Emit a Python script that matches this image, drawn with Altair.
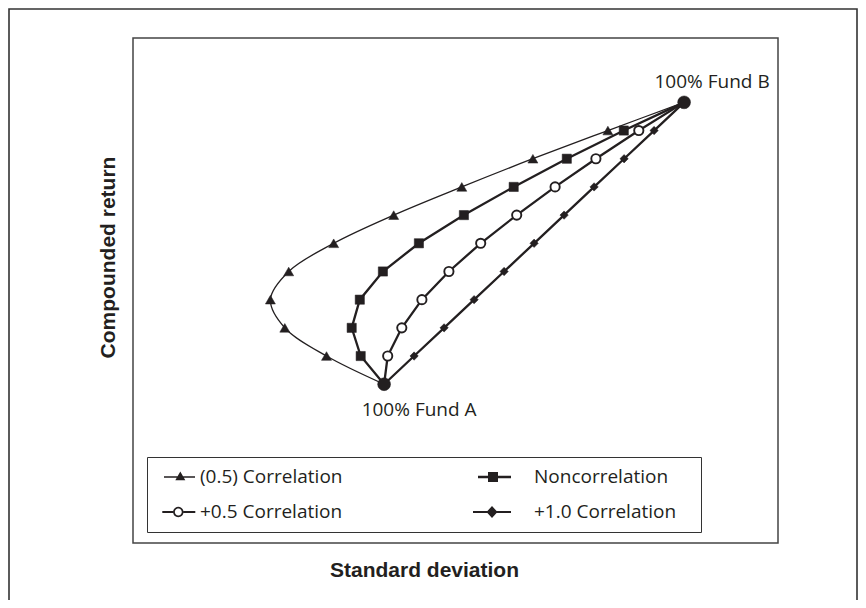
import altair as alt
import pandas as pd

INK = "#231f20"

# ---------------- data ----------------
series_names = ["(0.5) Correlation", "Noncorrelation", "+0.5 Correlation", "+1.0 Correlation"]
weight_b = [0, 10, 20, 30, 40, 50, 60, 70, 80, 90, 100]          # % in Fund B
returns = [6.0, 6.6, 7.2, 7.8, 8.4, 9.0, 9.6, 10.2, 10.8, 11.4, 12.0]  # compounded return
sd_neg05 = [10.0, 8.08, 6.69, 6.21, 6.82, 8.32, 10.32, 12.59, 14.96, 17.46, 20.0]
sd_zero = [10.0, 9.22, 8.92, 9.19, 9.96, 11.16, 12.66, 14.32, 16.09, 17.99, 20.0]
sd_pos05 = [10.0, 10.12, 10.59, 11.26, 12.16, 13.22, 14.42, 15.70, 17.06, 18.49, 20.0]
sd_pos10 = [10.0, 11.0, 12.0, 13.0, 14.0, 15.0, 16.0, 17.0, 18.0, 19.0, 20.0]
fund_labels = ["100% Fund A", "100% Fund B"]

sd_by_series = [sd_neg05, sd_zero, sd_pos05, sd_pos10]

rows = []
for name, sds in zip(series_names, sd_by_series):
    for i, (w, sd, r) in enumerate(zip(weight_b, sds, returns)):
        rows.append({"series": name, "idx": i, "weight": w, "sd": sd, "ret": r})
df = pd.DataFrame(rows)

ends = pd.DataFrame({
    "sd": [sd_pos10[0], sd_pos10[-1]],
    "ret": [returns[0], returns[-1]],
    "label": fund_labels,
})

# ---------------- styling ----------------
x_enc = alt.X("sd:Q", scale=alt.Scale(domain=[1.63, 23.13], nice=False, zero=False),
              axis=alt.Axis(title="Standard deviation", labels=False, ticks=False, domain=False,
                            grid=False, titlePadding=16, titleX=291))
y_enc = alt.Y("ret:Q", scale=alt.Scale(domain=[2.62, 13.37], nice=False, zero=False),
              axis=alt.Axis(title="Compounded return", labels=False, ticks=False, domain=False,
                            grid=False, titlePadding=15, titleY=219))

base = alt.Chart(df)

frame = alt.Chart(pd.DataFrame({"frame": [0]})).mark_rect(
    filled=False, color="#333333", strokeWidth=1.6
).encode(x=alt.value(-124), x2=alt.value(724), y=alt.value(-29), y2=alt.value(640))

line_curve = base.transform_filter(alt.datum.series == series_names[0]).mark_line(
    interpolate="catmull-rom", color=INK, strokeWidth=1.3
).encode(x=x_enc, y=y_enc, order="idx:Q")

line_straight = base.transform_filter(alt.datum.series != series_names[0]).mark_line(
    color=INK, strokeWidth=2.3
).encode(x=x_enc, y=y_enc, detail="series:N", order="idx:Q")

marker_styles = [
    dict(shape="triangle-up", size=100, fill=INK, stroke=INK, strokeWidth=0.5),
    dict(shape="square", size=85, fill=INK, stroke=INK, strokeWidth=0.5),
    dict(shape="circle", size=85, fill="white", stroke=INK, strokeWidth=1.9),
    dict(shape="diamond", size=70, fill=INK, stroke=INK, strokeWidth=0.5),
]
point_layers = []
for name, st in zip(series_names, marker_styles):
    point_layers.append(
        base.transform_filter(
            (alt.datum.series == name) & (alt.datum.idx > 0) & (alt.datum.idx < 10)
        ).mark_point(opacity=1, **st).encode(x=x_enc, y=y_enc)
    )

end_points = alt.Chart(ends).mark_point(
    shape="circle", size=165, fill=INK, stroke=INK, strokeWidth=0.5, opacity=1
).encode(x=x_enc, y=y_enc)

label_a = alt.Chart(ends).transform_filter(alt.datum.label == fund_labels[0]).mark_text(
    font="Open Sans", fontSize=19, color=INK, dx=35, dy=26, baseline="middle", align="center"
).encode(x=x_enc, y=y_enc, text="label:N")
label_b = alt.Chart(ends).transform_filter(alt.datum.label == fund_labels[1]).mark_text(
    font="Open Sans", fontSize=19, color=INK, dx=28, dy=-20, baseline="middle", align="center"
).encode(x=x_enc, y=y_enc, text="label:N")

# legend symbols: line + marker, drawn as filled paths (units of 10 px)
P_TRI = "M-0.3,-0.065H2.8V0.065H-0.3Z M1.33,-0.55L1.83,0.32L0.83,0.32Z"
P_SQ = "M-2.3,-0.12H1.0V0.12H-2.3Z M-1.3,-0.5H-0.3V0.5H-1.3Z"
P_CIR = ("M-0.47,-0.1H0.61V0.1H-0.47Z M1.65,-0.1H2.83V0.1H1.65Z "
         "M0.61,0A0.52,0.52 0 1,1 1.65,0A0.52,0.52 0 1,1 0.61,0Z "
         "M0.78,0A0.35,0.35 0 1,0 1.48,0A0.35,0.35 0 1,0 0.78,0Z")
P_DIA = "M-2.8,-0.11H1.0V0.11H-2.8Z M-1.45,0L-0.9,-0.6L-0.35,0L-0.9,0.6Z"

# legend fills column by column: left column first, then right column
legend_order = [series_names[0], series_names[2], series_names[1], series_names[3]]
legend_paths = [P_TRI, P_CIR, P_SQ, P_DIA]

legend_layer = base.mark_point(filled=True, color=INK, opacity=0).encode(
    x=x_enc, y=y_enc,
    shape=alt.Shape(
        "series:N",
        scale=alt.Scale(domain=legend_order, range=legend_paths),
        legend=alt.Legend(
            title=" ", titleOrient="right", titlePadding=15, titleFontSize=8,
            orient="none", legendX=14, legendY=419, columns=2,
            columnPadding=130, rowPadding=15, padding=10, strokeColor="#333333",
            symbolSize=400, symbolStrokeWidth=0, symbolOpacity=1, symbolFillColor=INK,
            labelFont="Open Sans", labelFontSize=19, labelColor=INK, labelOffset=23,
            labelLimit=400,
        ),
    ),
)

chart = alt.layer(
    frame, line_curve, line_straight, *point_layers, end_points, label_a, label_b, legend_layer
).properties(
    width=645, height=505,
    autosize="none",
    padding={"left": 125, "top": 30, "right": 80, "bottom": 57},
    background="white",
).configure_view(
    stroke="#444444", strokeWidth=1.5
).configure_axis(
    titleFont="Liberation Sans", titleFontSize=21, titleFontWeight="bold", titleColor=INK
)

chart.save("out.html", embed_options={"renderer": "svg", "actions": False})
